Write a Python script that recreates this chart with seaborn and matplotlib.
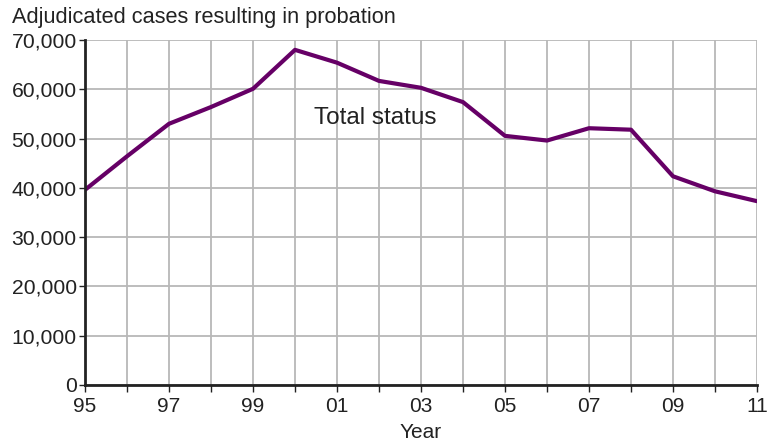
import matplotlib
matplotlib.use("Agg")
import matplotlib.pyplot as plt
import seaborn as sns
import pandas as pd

years = list(range(1995, 2012))
cases = [39600, 46400, 53000, 56400, 60100, 68000, 65400, 61700, 60300,
         57400, 50550, 49600, 52100, 51800, 42350, 39300, 37300]
xtick_years = list(range(1995, 2012, 2))
xtick_labels = ["95", "97", "99", "01", "03", "05", "07", "09", "11"]
ytick_values = list(range(0, 70001, 10000))
ytick_labels = ["0", "10,000", "20,000", "30,000", "40,000", "50,000", "60,000", "70,000"]

df = pd.DataFrame({"Year": years, "Cases": cases})

sns.set_theme(style="white")
plt.rcParams["font.family"] = ["Liberation Sans", "DejaVu Sans"]

fig = plt.figure(figsize=(7.79, 4.42), dpi=100)
ax = fig.add_axes([85/779, 1-385/442, (757-85)/779, (385-40)/442])

sns.lineplot(data=df, x="Year", y="Cases", ax=ax, color="#660066", linewidth=3, zorder=3)

ax.set_xlim(1995, 2011)
ax.set_ylim(0, 70000)
ax.set_xticks(years, minor=True)
ax.set_xticks(xtick_years)
ax.set_xticklabels(xtick_labels, fontsize=15, color="#222222")
ax.set_yticks(ytick_values)
ax.set_yticklabels(ytick_labels, fontsize=15.2, color="#222222")

ax.grid(True, which="both", axis="x", color="#b8b8b8", linewidth=1.3, zorder=0)
ax.grid(True, which="major", axis="y", color="#b8b8b8", linewidth=1.3, zorder=0)

for s in ["top", "right"]:
    ax.spines[s].set_visible(False)
for s in ["left", "bottom"]:
    ax.spines[s].set_color("#222222")
    ax.spines[s].set_linewidth(2)
    ax.spines[s].set_zorder(4)

ax.tick_params(axis="x", which="both", direction="out", length=5, width=1, color="#222222", pad=4, bottom=True)
ax.tick_params(axis="y", which="major", direction="out", length=4, width=1, color="#222222", pad=2, left=True)

ax.set_xlabel("Year", fontsize=15, color="#222222", labelpad=5)
ax.set_ylabel("")

ax.text(2000.45, 54200, "Total status", fontsize=17.5, color="#222222", va="center", ha="left")

fig.text(12/779, 1-18/442, "Adjudicated cases resulting in probation", fontsize=15.7,
         color="#222222", va="center", ha="left")

fig.savefig("out.png", dpi=100, facecolor="white")
